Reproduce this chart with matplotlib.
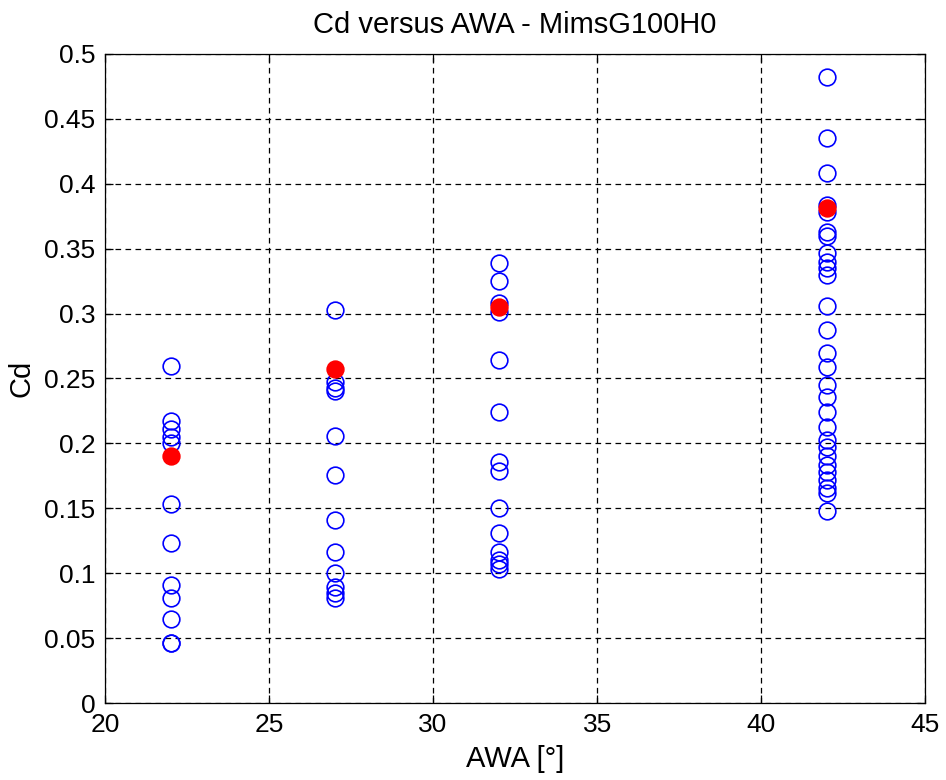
import matplotlib
matplotlib.use('Agg')
import matplotlib.pyplot as plt

plt.rcParams['font.family'] = ['Liberation Sans', 'DejaVu Sans']

# Cd values, one list per AWA setting
awa_22 = [0.260, 0.217, 0.211, 0.205, 0.200, 0.153, 0.123, 0.091, 0.081, 0.065, 0.046, 0.046]
awa_27 = [0.303, 0.247, 0.243, 0.240, 0.206, 0.176, 0.141, 0.116, 0.100, 0.089, 0.085, 0.081]
awa_32 = [0.339, 0.325, 0.308, 0.301, 0.264, 0.224, 0.186, 0.179, 0.150, 0.131, 0.116, 0.110, 0.107, 0.103]
awa_42 = [0.482, 0.435, 0.408, 0.384, 0.378, 0.363, 0.360, 0.347, 0.340, 0.335, 0.330,
          0.306, 0.287, 0.270, 0.259, 0.245, 0.236, 0.224, 0.213, 0.203, 0.197, 0.190,
          0.183, 0.178, 0.172, 0.166, 0.162, 0.148]

# mean points (red)
mean_awa = [22, 27, 32, 42]
mean_cd = [0.190, 0.257, 0.305, 0.381]

fig = plt.figure(figsize=(9.46, 7.8), dpi=100)
ax = fig.add_axes([0.111, 0.0987, 0.867, 0.8321])

for awa, cds in [(22, awa_22), (27, awa_27), (32, awa_32), (42, awa_42)]:
    ax.plot([awa] * len(cds), cds, 'o', mfc='none', mec='#0000ff', ms=12, mew=1.2, zorder=3)

ax.plot(mean_awa, mean_cd, 'o', mfc='#ff0000', mec='#ff0000', ms=12, mew=1.2, zorder=4)

ax.set_xlim(20, 45)
ax.set_ylim(0, 0.5)
ax.set_xticks([20, 25, 30, 35, 40, 45])
ax.set_yticks([0, 0.05, 0.1, 0.15, 0.2, 0.25, 0.3, 0.35, 0.4, 0.45, 0.5])
ax.set_yticklabels(['0', '0.05', '0.1', '0.15', '0.2', '0.25', '0.3', '0.35', '0.4', '0.45', '0.5'])

ax.grid(True, color='black', linestyle=(0, (4.5, 3.5)), linewidth=0.9)
ax.set_axisbelow(True)
ax.tick_params(direction='in', length=6, width=0.9, top=True, right=True,
               labelsize=19, pad=7)
for s in ax.spines.values():
    s.set_linewidth(0.9)

ax.set_title('Cd versus AWA - MimsG100H0', fontsize=21, pad=15)
ax.set_xlabel('AWA [°]', fontsize=21, labelpad=6)
ax.set_ylabel('Cd', fontsize=21, labelpad=6)

fig.savefig('out.png', dpi=100)
